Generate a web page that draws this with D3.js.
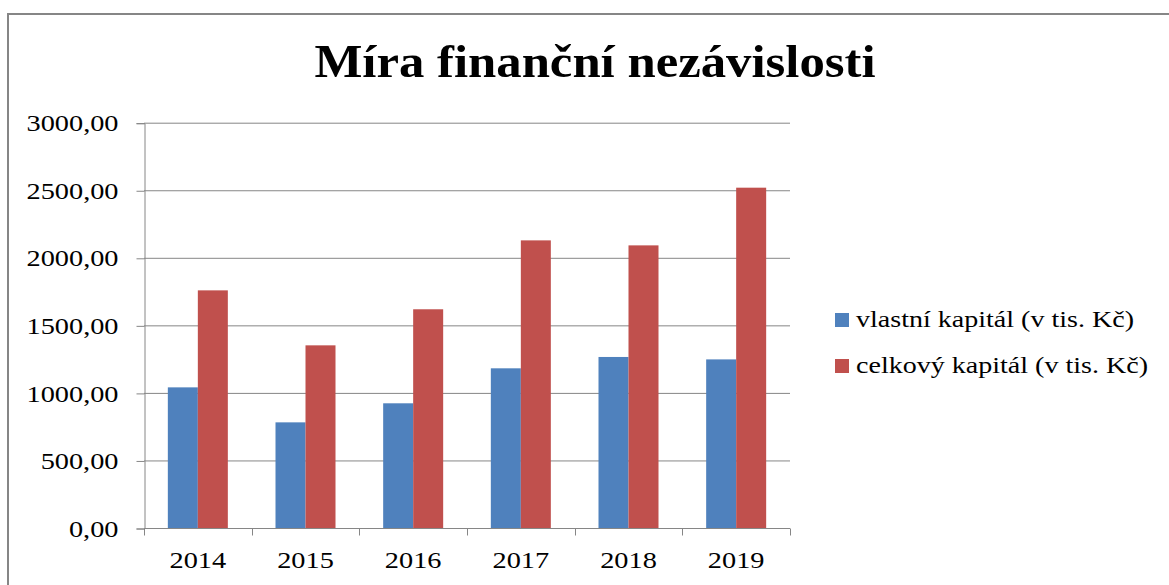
<!DOCTYPE html>
<html>
<head>
<meta charset="utf-8">
<script src="https://cdn.jsdelivr.net/npm/d3@7"></script>
<style>
  body { margin: 0; background: #fff; }
  svg { display: block; }
  svg text { font-family: "Liberation Serif", "Times New Roman", serif; }
  .stretch { transform-box: fill-box; }
</style>
</head>
<body>
<div id="vis"></div>
<script>
const years = ["2014", "2015", "2016", "2017", "2018", "2019"];
const vlastni = [1041, 782, 923, 1182, 1266, 1248];
const celkovy = [1759, 1352, 1619, 2129, 2092, 2519];
const seriesNames = ["vlastní kapitál (v tis. Kč)", "celkový kapitál (v tis. Kč)"];
const seriesColors = ["#4F81BD", "#C0504D"];
const yTicks = [0, 500, 1000, 1500, 2000, 2500, 3000];
const title = "Míra finanční nezávislosti";

const W = 1169, H = 585;
const plot = { left: 144, right: 790, top: 122.7, bottom: 528 };
const gridColor = "#868686";
const serif = "'Liberation Serif', 'Times New Roman', serif";

const svg = d3.select("#vis")
  .append("svg")
    .attr("width", W)
    .attr("height", H);

// chart frame (cut off on the right and bottom like the screenshot)
svg.append("rect")
    .attr("x", 8)
    .attr("y", 14)
    .attr("width", W + 20)
    .attr("height", H + 20)
    .attr("fill", "#fff")
    .attr("stroke", gridColor)
    .attr("stroke-width", 2);

svg.append("text")
    .attr("x", 595)
    .attr("y", 77)
    .attr("text-anchor", "middle")
    .style("font-family", serif)
    .style("font-size", "47px")
    .style("font-weight", "bold")
    .attr("class", "stretch")
    .style("transform-origin", "center")
    .style("transform", "scaleX(1.08)")
    .text(title);

const x = d3.scaleBand()
    .domain(years)
    .range([plot.left, plot.right])
    .padding(0);

const y = d3.scaleLinear()
    .domain([0, 3000])
    .range([plot.bottom, plot.top]);

const barW = 30;
const xInner = d3.scaleBand()
    .domain([0, 1])
    .range([x.bandwidth() / 2 - barW, x.bandwidth() / 2 + barW]);

// gridlines
svg.append("g")
    .selectAll("line")
    .data(yTicks)
    .join("line")
    .attr("x1", plot.left)
    .attr("x2", plot.right)
    .attr("y1", d => y(d) + 0.5)
    .attr("y2", d => y(d) + 0.5)
    .attr("stroke", gridColor)
    .attr("stroke-width", 1);

// y axis
const yAxis = svg.append("g")
    .attr("transform", `translate(${plot.left + 0.5}, 0.5)`)
    .call(d3.axisLeft(y)
        .tickValues(yTicks)
        .tickSize(8)
        .tickPadding(18)
        .tickFormat(d => d3.format(".2f")(d).replace(".", ",")));
yAxis.select(".domain").attr("stroke", gridColor);
yAxis.selectAll(".tick line").attr("stroke", gridColor);
yAxis.selectAll(".tick text")
    .style("font-size", "24px")
    .style("font-family", serif)
    .attr("fill", "#000")
    .attr("class", "stretch")
    .style("transform-origin", "right")
    .style("transform", "scaleX(1.18)");

// bars
const groups = svg.append("g")
    .selectAll("g")
    .data(years.map((yr, i) => ({ year: yr, values: [vlastni[i], celkovy[i]] })))
    .join("g")
    .attr("transform", d => `translate(${x(d.year)}, 0)`);

groups.selectAll("rect")
    .data(d => d.values.map((v, k) => ({ k, v })))
    .join("rect")
    .attr("x", d => xInner(d.k))
    .attr("width", xInner.bandwidth())
    .attr("y", d => y(d.v))
    .attr("height", d => y(0) - y(d.v))
    .attr("fill", d => seriesColors[d.k]);

// x axis
const xAxis = svg.append("g")
    .attr("transform", `translate(0, ${plot.bottom + 0.5})`)
    .call(d3.axisBottom(x).tickSize(0).tickPadding(22));
xAxis.select(".domain")
    .attr("stroke", gridColor)
    .attr("d", `M${plot.left},0H${plot.right}`);
xAxis.selectAll(".tick text")
    .style("font-size", "24px")
    .style("font-family", serif)
    .attr("fill", "#000")
    .attr("class", "stretch")
    .style("transform-origin", "center")
    .style("transform", "scaleX(1.18)");

const boundaries = years.map(d => x(d)).concat([x(years[years.length - 1]) + x.bandwidth()]);
xAxis.append("g")
    .selectAll("line")
    .data(boundaries)
    .join("line")
    .attr("x1", d => Math.round(d) + 0.5)
    .attr("x2", d => Math.round(d) + 0.5)
    .attr("y1", 0)
    .attr("y2", 7)
    .attr("stroke", gridColor);

// legend
const legend = svg.append("g")
    .attr("transform", "translate(835, 313)");

const items = legend.selectAll("g")
    .data(seriesNames)
    .join("g")
    .attr("transform", (d, i) => `translate(0, ${i * 46})`);

items.append("rect")
    .attr("width", 14)
    .attr("height", 14)
    .attr("fill", (d, i) => seriesColors[i]);

items.append("text")
    .attr("x", 21)
    .attr("y", 14)
    .style("font-family", serif)
    .style("font-size", "23px")
    .attr("class", "stretch")
    .style("transform-origin", "left")
    .style("transform", "scaleX(1.22)")
    .text(d => d);
</script>
</body>
</html>
